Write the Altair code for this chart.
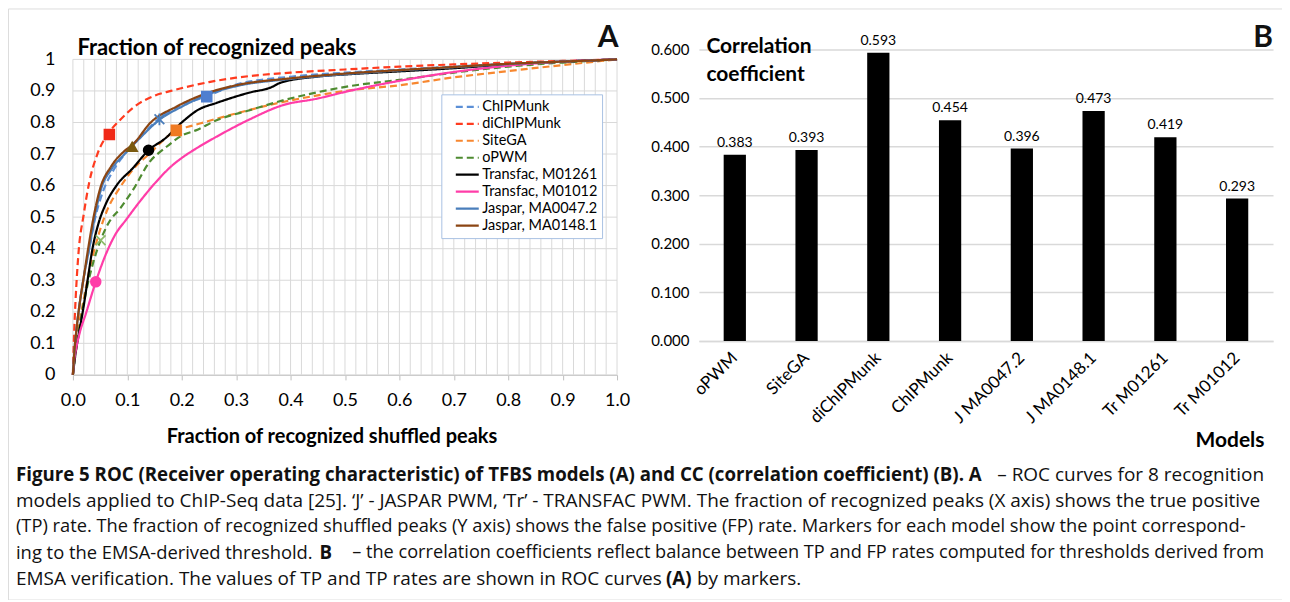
import altair as alt
import pandas as pd

FONT = "Lato"
CAPFONT = "Open Sans"

# ---------------- Panel A : ROC curves ----------------
models = ["ChIPMunk", "diChIPMunk", "SiteGA", "oPWM",
          "Transfac, M01261", "Transfac, M01012",
          "Jaspar, MA0047.2", "Jaspar, MA0148.1"]
model_colors = ["#5B8FD6", "#FF3B1F", "#F7872F", "#4E8B30",
                "#000000", "#FF3DA8", "#4A7EBB", "#8B4513"]
model_dash = [[7, 4], [7, 4], [7, 4], [7, 4], [1, 0], [1, 0], [1, 0], [1, 0]]

chipmunk_fpr = [0, 0.003, 0.007, 0.012, 0.02, 0.03, 0.04, 0.055, 0.075, 0.1, 0.13, 0.16, 0.2, 0.245, 0.3, 0.4, 0.5, 0.6, 0.7, 0.8, 0.9, 1.0]
chipmunk_tpr = [0, 0.08, 0.15, 0.22, 0.31, 0.40, 0.49, 0.58, 0.65, 0.71, 0.765, 0.815, 0.855, 0.882, 0.92, 0.945, 0.958, 0.968, 0.977, 0.986, 0.993, 1.0]

dichipmunk_fpr = [0, 0.002, 0.005, 0.01, 0.02, 0.03, 0.045, 0.065, 0.085, 0.113, 0.15, 0.18, 0.25, 0.3, 0.4, 0.5, 0.6, 0.7, 0.8, 0.9, 1.0]
dichipmunk_tpr = [0, 0.12, 0.24, 0.38, 0.51, 0.61, 0.70, 0.765, 0.805, 0.85, 0.885, 0.90, 0.928, 0.942, 0.958, 0.968, 0.977, 0.984, 0.99, 0.995, 1.0]

sitega_fpr = [0, 0.005, 0.012, 0.02, 0.03, 0.04, 0.05, 0.065, 0.085, 0.11, 0.14, 0.19, 0.22, 0.264, 0.325, 0.386, 0.447, 0.5, 0.6, 0.7, 0.8, 0.9, 1.0]
sitega_tpr = [0, 0.10, 0.17, 0.24, 0.33, 0.40, 0.46, 0.53, 0.59, 0.65, 0.70, 0.775, 0.79, 0.812, 0.84, 0.865, 0.885, 0.90, 0.918, 0.943, 0.963, 0.982, 1.0]

opwm_fpr = [0, 0.005, 0.012, 0.025, 0.038, 0.051, 0.065, 0.088, 0.11, 0.141, 0.17, 0.202, 0.226, 0.264, 0.325, 0.386, 0.447, 0.508, 0.6, 0.7, 0.8, 0.9, 1.0]
opwm_tpr = [0, 0.07, 0.15, 0.27, 0.36, 0.427, 0.48, 0.53, 0.585, 0.675, 0.72, 0.76, 0.775, 0.807, 0.839, 0.87, 0.895, 0.915, 0.935, 0.958, 0.977, 0.99, 1.0]

tf261_fpr = [0, 0.005, 0.012, 0.02, 0.027, 0.036, 0.047, 0.06, 0.08, 0.11, 0.139, 0.17, 0.2, 0.23, 0.264, 0.325, 0.365, 0.38, 0.447, 0.508, 0.6, 0.7, 0.8, 0.9, 1.0]
tf261_tpr = [0, 0.07, 0.14, 0.22, 0.30, 0.40, 0.48, 0.54, 0.60, 0.655, 0.712, 0.75, 0.80, 0.84, 0.862, 0.895, 0.912, 0.925, 0.945, 0.953, 0.962, 0.972, 0.984, 0.993, 1.0]

tf012_fpr = [0, 0.002, 0.0055, 0.012, 0.024, 0.042, 0.06, 0.079, 0.097, 0.125, 0.152, 0.18, 0.202, 0.226, 0.264, 0.325, 0.386, 0.447, 0.508, 0.6, 0.7, 0.8, 0.9, 1.0]
tf012_tpr = [0, 0.04, 0.079, 0.13, 0.195, 0.295, 0.38, 0.448, 0.49, 0.554, 0.61, 0.66, 0.69, 0.717, 0.755, 0.81, 0.855, 0.875, 0.90, 0.932, 0.96, 0.98, 0.993, 1.0]

ja047_fpr = [0, 0.003, 0.007, 0.012, 0.02, 0.03, 0.04, 0.052, 0.07, 0.095, 0.12, 0.16, 0.2, 0.25, 0.3, 0.4, 0.5, 0.6, 0.7, 0.8, 0.9, 1.0]
ja047_tpr = [0, 0.08, 0.15, 0.22, 0.31, 0.40, 0.50, 0.59, 0.65, 0.70, 0.745, 0.81, 0.85, 0.89, 0.915, 0.938, 0.953, 0.965, 0.975, 0.985, 0.993, 1.0]

ja148_fpr = [0, 0.003, 0.007, 0.012, 0.02, 0.028, 0.038, 0.05, 0.07, 0.095, 0.11, 0.143, 0.19, 0.25, 0.3, 0.4, 0.5, 0.6, 0.7, 0.8, 0.9, 1.0]
ja148_tpr = [0, 0.08, 0.15, 0.22, 0.31, 0.40, 0.50, 0.59, 0.66, 0.71, 0.73, 0.80, 0.85, 0.895, 0.918, 0.94, 0.955, 0.966, 0.976, 0.986, 0.993, 1.0]

# EMSA-derived threshold markers
marker_fpr = [0.246, 0.067, 0.19, 0.051, 0.139, 0.042, 0.159, 0.109]
marker_tpr = [0.882, 0.762, 0.775, 0.427, 0.712, 0.295, 0.81, 0.723]
marker_shapes = ["square", "square", "square", "M-1,-1L1,1M-1,1L1,-1",
                 "circle", "circle", "M-1,-1L1,1M-1,1L1,-1M0,-1.2L0,1.2", "triangle-up"]
marker_colors = ["#4F7FD0", "#F02A18", "#F07A22", "#8DBB6A",
                 "#000000", "#FF3DA8", "#4A7EBB", "#7A5A10"]

grid_x_vals = [round(i * 0.02, 2) for i in range(51)]
grid_y_vals = [0, 0.1, 0.2, 0.3, 0.4, 0.5, 0.6, 0.7, 0.8, 0.9, 1.0]
x_ticks = [0, 0.1, 0.2, 0.3, 0.4, 0.5, 0.6, 0.7, 0.8, 0.9, 1.0]

# ---------------- Panel B : correlation coefficients ----------------
bar_models = ["oPWM", "SiteGA", "diChIPMunk", "ChIPMunk",
              "J MA0047.2", "J MA0148.1", "Tr M01261", "Tr M01012"]
bar_cc = [0.383, 0.393, 0.593, 0.454, 0.396, 0.473, 0.419, 0.293]
cc_ticks = [0, 0.1, 0.2, 0.3, 0.4, 0.5, 0.6]

# ---------------- tables ----------------
curves = [chipmunk_fpr, dichipmunk_fpr, sitega_fpr, opwm_fpr, tf261_fpr, tf012_fpr, ja047_fpr, ja148_fpr]
curves_t = [chipmunk_tpr, dichipmunk_tpr, sitega_tpr, opwm_tpr, tf261_tpr, tf012_tpr, ja047_tpr, ja148_tpr]
rows = []
for m, fx, ty in zip(models, curves, curves_t):
    for i, (a, b) in enumerate(zip(fx, ty)):
        rows.append({"model": m, "fpr": a, "tpr": b, "i": i})
roc_df = pd.DataFrame(rows)
marker_df = pd.DataFrame({"mk": models, "fpr": marker_fpr, "tpr": marker_tpr})
gx_df = pd.DataFrame({"fpr": grid_x_vals})
gy_df = pd.DataFrame({"tpr": grid_y_vals})
bar_df = pd.DataFrame({"model": bar_models, "cc": bar_cc})

# ---------------- scales ----------------
xA = alt.Scale(domain=[0, 1], range=[65, 610], nice=False, zero=False)
yA = alt.Scale(domain=[0, 1], range=[367, 51], nice=False, zero=False)
col_scale = alt.Scale(domain=models, range=model_colors)
dash_scale = alt.Scale(domain=models, range=model_dash)
# marker scales list the models in reverse order so their (hidden) guides stay apart from the line legend
mk_col_scale = alt.Scale(domain=models[::-1], range=marker_colors[::-1])
mk_shape_scale = alt.Scale(domain=models[::-1], range=marker_shapes[::-1])

GRID = "#d9d9d9"

leg = alt.Legend(orient="none", legendX=434, legendY=86, title=None,
                 symbolType="stroke", symbolSize=529, symbolStrokeWidth=2.2,
                 symbolOffset=9, clipHeight=17, rowPadding=0, padding=4,
                 labelFont=FONT, labelFontSize=14.5, labelColor="#000",
                 labelOffset=2, strokeColor="#A9C1E3", fillColor="white")

axA_x = alt.Axis(
    orient="bottom", offset=-225, values=x_ticks, format=".1f", grid=False,
    domainColor="#bfbfbf", tickColor="#bfbfbf", tickSize=5, labelFlush=False,
    labelFont=FONT, labelFontSize=18, labelColor="#000", labelPadding=12,
    title="Fraction of recognized shuffled peaks", titleFont=FONT, titleFontSize=20,
    titleFontWeight="bold", titleColor="#000", titleX=324, titleY=62,
    titleAlign="center", titleBaseline="middle")
axA_y = alt.Axis(
    orient="left", offset=-65, values=grid_y_vals, format="~g", grid=False,
    ticks=False, domain=False, labelFlush=False, labelFont=FONT, labelFontSize=18,
    labelColor="#000", labelPadding=18, title="Fraction of recognized peaks",
    titleFont=FONT, titleFontSize=22, titleFontWeight="bold", titleColor="#000",
    titleAngle=0, titleX=4, titleY=39, titleAlign="left", titleBaseline="middle")

grid_v = alt.Chart(gx_df).mark_rule(color=GRID, strokeWidth=1).encode(
    x=alt.X("fpr:Q", scale=xA, axis=axA_x),
    y=alt.YDatum(0, type="quantitative", scale=yA, axis=axA_y),
    y2=alt.Y2Datum(1),
)
grid_h = alt.Chart(gy_df).mark_rule(color=GRID, strokeWidth=1).encode(
    y=alt.Y("tpr:Q", scale=yA, axis=axA_y),
    x=alt.XDatum(0, type="quantitative", scale=xA, axis=axA_x),
    x2=alt.X2Datum(1),
)

lines = alt.Chart(roc_df).mark_line(strokeWidth=2.2, interpolate="monotone").encode(
    x=alt.X("fpr:Q", scale=xA, axis=axA_x),
    y=alt.Y("tpr:Q", scale=yA, axis=axA_y),
    color=alt.Color("model:N", scale=col_scale, legend=leg),
    strokeDash=alt.StrokeDash("model:N", scale=dash_scale, legend=leg),
    order=alt.Order("i:Q"),
)

points = alt.Chart(marker_df).mark_point(filled=True, size=95, strokeWidth=1.8, opacity=1).encode(
    x=alt.X("fpr:Q", scale=xA, axis=axA_x),
    y=alt.Y("tpr:Q", scale=yA, axis=axA_y),
    fill=alt.Fill("mk:N", scale=mk_col_scale, legend=None),
    stroke=alt.Stroke("mk:N", scale=mk_col_scale, legend=None),
    shape=alt.Shape("mk:N", scale=mk_shape_scale, legend=None),
)

panelA = alt.layer(grid_v, grid_h, lines, points)

# ---------------- Panel B ----------------
xB = alt.Scale(domain=bar_models, range=[692, 1267], paddingInner=0.69, paddingOuter=0.345)
yB = alt.Scale(domain=[0, 0.6], range=[333, 41], nice=False, zero=True)

axB_x = alt.Axis(
    orient="bottom", offset=-259, labelAngle=-45, labelAlign="right",
    labelBaseline="middle", labelPadding=14, ticks=False, domain=True,
    domainColor=GRID, domainWidth=1.5, labelFont=FONT, labelFontSize=17,
    labelColor="#000", title="Models", titleFont=FONT, titleFontSize=21,
    titleFontWeight="bold", titleColor="#000", titleX=1258, titleY=100,
    titleAlign="right", titleBaseline="middle")
axB_y = alt.Axis(
    orient="left", offset=-692, values=cc_ticks, format=".3f", grid=True,
    gridColor=GRID, gridWidth=1.5, ticks=False, domain=False, labelPadding=10,
    labelFont=FONT, labelFontSize=15, labelColor="#000",
    title=["Correlation", "coefficient"], titleFont=FONT, titleFontSize=21,
    titleFontWeight="bold", titleColor="#000", titleAngle=0, titleX=7, titleY=27,
    titleAlign="left", titleBaseline="top", titleLineHeight=28)

bars = alt.Chart(bar_df).mark_bar(color="black").encode(
    x=alt.X("model:N", sort=bar_models, scale=xB, axis=axB_x),
    y=alt.Y("cc:Q", scale=yB, axis=axB_y),
)
bar_text = alt.Chart(bar_df).mark_text(baseline="bottom", dy=-5, font=FONT, fontSize=14, color="#000").encode(
    x=alt.X("model:N", sort=bar_models, scale=xB, axis=axB_x),
    y=alt.Y("cc:Q", scale=yB, axis=axB_y),
    text=alt.Text("cc:Q", format=".3f"),
)
panelB = alt.layer(bars, bar_text)

# ---------------- annotations ----------------
one = pd.DataFrame({"k": [0]})


def txt(s, x, y, size=19, weight="normal", align="left", font=CAPFONT):
    return alt.Chart(one).mark_text(font=font, fontSize=size, fontWeight=weight,
                                    align=align, baseline="middle", color="#111").encode(
        x=alt.value(x), y=alt.value(y), text=alt.value(s))


BOLD = 18.7
notes = [
    txt("A", 601, 30, size=30, weight="bold", align="center", font=FONT),
    txt("B", 1257, 30, size=30, weight="bold", align="center", font=FONT),
    txt("Figure 5 ROC (Receiver operating characteristic) of TFBS models (A) and CC (correlation coefficient) (B). A",
        8, 467, size=BOLD, weight="bold"),
    txt("\u2013 ROC curves for 8 recognition", 1258, 467, align="right"),
    txt("models applied to ChIP-Seq data [25]. \u2018J\u2019 - JASPAR PWM, \u2018Tr\u2019 - TRANSFAC PWM. The fraction of recognized peaks (X axis) shows the true positive",
        8, 493),
    txt("(TP) rate. The fraction of recognized shuffled peaks (Y axis) shows the false positive (FP) rate. Markers for each model show the point correspond-",
        8, 519, size=18.3),
    txt("ing to the EMSA-derived threshold.", 8, 545, size=18.4),
    txt("B", 312, 545, size=BOLD, weight="bold"),
    txt("\u2013 the correlation coefficients reflect balance between TP and FP rates computed for thresholds derived from",
        1258, 545, size=18.2, align="right"),
    txt("EMSA verification. The values of TP and TP rates are shown in ROC curves", 8, 571),
    txt("(A)", 659, 571, size=BOLD, weight="bold"),
    txt("by markers.", 690, 571),
]

chart = alt.layer(panelA, panelB, *notes).resolve_scale(
    x="independent", y="independent"
).properties(
    width=1276, height=592, padding=0,
    autosize=alt.AutoSizeParams(type="none"),
).configure_view(
    stroke="#555", strokeWidth=1.3, cornerRadius=12
).configure(
    font=FONT, background="white"
)

chart.save("out.html", embed_options={"renderer": "svg", "actions": False})
